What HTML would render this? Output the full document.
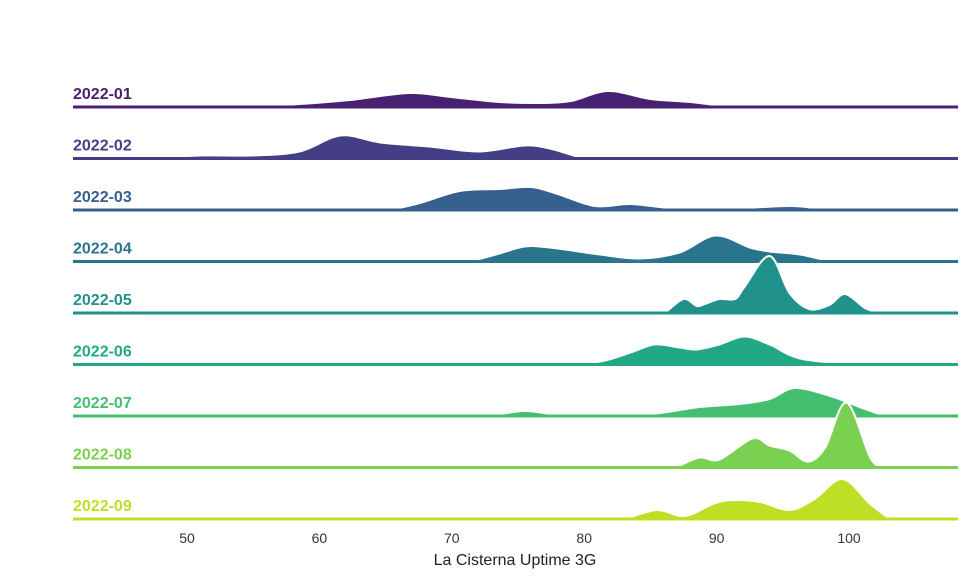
<!DOCTYPE html>
<html><head><meta charset="utf-8"><style>
body{margin:0;background:#fff;}
svg{display:block;font-family:"Liberation Sans",sans-serif;}
</style></head><body>
<svg id="chart" width="975" height="585" viewBox="0 0 975 585"></svg>
<script>
const months = ["2022-01","2022-02","2022-03","2022-04","2022-05","2022-06","2022-07","2022-08","2022-09"];
const colors = ["#482173","#433e85","#355f8d","#2b748e","#21918c","#22a884","#44bf70","#7ad151","#bddf26"];
const xTicks = [50,60,70,80,90,100];
// uptime values (x) and density heights for each month
const x01=[54,58.5,62.3,66.8,69.9,73.6,76.7,79,81.8,85,88,91];
const d01=[0,3,7,14,10,5,4,6,16,8,5,0];
const x02=[47.2,51,54.8,58.5,61.6,64.6,68.3,72,75.5,77.4,79.7,80.5];
const d02=[0,3,3,7,23,16,12,7,13,10,1,0];
const x03=[65.3,67.6,70.6,73.6,76,78,80.8,83.5,86.5,90.3,95.5,97.8,98.6];
const d03=[0,7,19,21,23,16,4,6,2,1,4,1,0];
const x04=[71.4,73.6,75.5,77.4,81.2,84.2,87.2,89.9,92.5,94,96.3,98.6];
const d04=[0,8,15,14,7,3,9,26,14,10,7,0];
const x05=[86.1,87.5,88.5,89.1,90.2,91.4,92.1,94,95.5,97,98.5,99.7,101.2,102.3];
const d05=[0,14,7,9,14,14,26,57,20,4,8,19,5,0];
const x06=[66,70,74,77,78,81.2,83.5,85.3,87.2,88.5,90.2,92.1,94,96.3,100.4];
const d06=[0,2,0,1,0,3,12,20,17,15,20,28,20,6,0];
const x07=[72.9,75.5,78.2,81.2,85,88.7,91.7,94,95.9,98.6,100.8,102.7];
const d07=[0,5,1,2,2,9,12,17,28,20,9,0];
const x08=[86.9,88.7,90.2,92.7,94,95.5,96.9,98.2,99.8,101.6,102.5];
const d08=[0,10,8,29,22,17,6,20,65,10,0];
const x09=[83.1,85.5,87.6,89.9,91.4,93.3,95.5,97.4,99.5,101.6,103.1];
const d09=[0,9,3,16,19,17,9,20,40,15,0];
const xs=[x01,x02,x03,x04,x05,x06,x07,x08,x09];
const ds=[d01,d02,d03,d04,d05,d06,d07,d08,d09];

const svg=document.getElementById('chart');
const NS='http://www.w3.org/2000/svg';
const X0=73,X1=958,V0=41.39,V1=108.23;
const xScale=v=>X0+(v-V0)/(V1-V0)*(X1-X0);
const yScale=(i,d)=>107+i*51.5-d;
function mk(t,a){const e=document.createElementNS(NS,t);for(const k in a)e.setAttribute(k,a[k]);svg.appendChild(e);return e;}
function smooth(pts){
  let s=`M${pts[0][0]},${pts[0][1]}`;
  for(let i=0;i<pts.length-1;i++){
    const p0=pts[Math.max(i-1,0)],p1=pts[i],p2=pts[i+1],p3=pts[Math.min(i+2,pts.length-1)];
    const c1=[p1[0]+(p2[0]-p0[0])/6,p1[1]+(p2[1]-p0[1])/6];
    const c2=[p2[0]-(p3[0]-p1[0])/6,p2[1]-(p3[1]-p1[1])/6];
    s+=` C${c1[0]},${c1[1]} ${c2[0]},${c2[1]} ${p2[0]},${p2[1]}`;
  }
  return s;
}
months.forEach((m,i)=>{
  const base=yScale(i,0);
  const pts=xs[i].map((v,j)=>[xScale(v),yScale(i,ds[i][j])]);
  const path=smooth(pts);
  const g=document.createElementNS(NS,'g');
  
  
  svg.appendChild(g);
  const area=mk('path',{d:path+` L${pts[pts.length-1][0]},${base} L${pts[0][0]},${base} Z`,fill:colors[i],stroke:'none'});
  
  
  g.appendChild(area);
  const outline=mk('path',{d:path,fill:'none',stroke:'#fff','stroke-width':2});
  
  
  g.appendChild(outline);
  const line=mk('line',{x1:X0,x2:X1,y1:base,y2:base,stroke:colors[i],'stroke-width':3});
  
  
  g.appendChild(line);
  const lab=mk('text',{x:73,y:base-8,fill:colors[i],'font-size':16,'font-weight':'bold'});
  lab.textContent=m;
  
  
  g.appendChild(lab);
});
xTicks.forEach(t=>{
  const e=mk('text',{x:xScale(t),y:543,'text-anchor':'middle','font-size':14,fill:'#333'});
  e.textContent=t;
  
  
});
const title=mk('text',{x:515,y:565,'text-anchor':'middle','font-size':16,fill:'#222'});
title.textContent='La Cisterna Uptime 3G';


</script>
</body></html>
